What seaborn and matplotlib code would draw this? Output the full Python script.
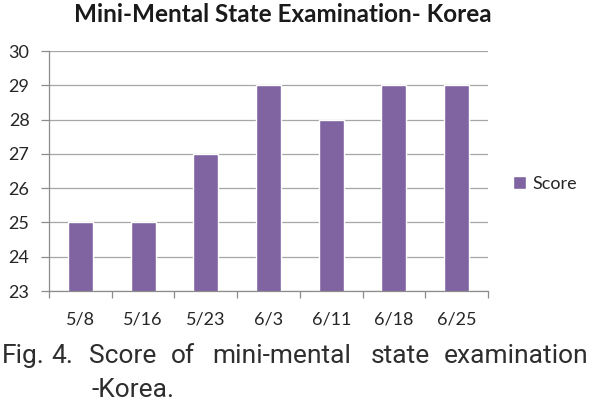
import matplotlib
matplotlib.use("Agg")
import matplotlib.pyplot as plt
import seaborn as sns
import pandas as pd

dates = ["5/8", "5/16", "5/23", "6/3", "6/11", "6/18", "6/25"]
scores = [25, 25, 27, 29, 28, 29, 29]
series_name = "Score"
title = "Mini-Mental State Examination- Korea"
caption_line1 = ["Fig.", "4.", "Score", "of", "mini-mental", "state", "examination"]
caption_line2 = "-Korea."

sns.set_theme(style="white")
plt.rcParams["font.family"] = ["Lato", "DejaVu Sans"]

df = pd.DataFrame({"date": dates, "score": scores, "series": series_name})

W, H = 589, 404
fig = plt.figure(figsize=(W / 100, H / 100), dpi=100)
ax = fig.add_axes([49 / W, 1 - 291 / H, (488 - 49) / W, (291 - 51) / H])

sns.barplot(data=df, x="date", y="score", hue="series", palette=["#8064A2"],
            width=0.4, ax=ax, legend=True, saturation=1)

ax.set_ylim(23, 30)
ax.set_yticks(range(23, 31))
ax.set_xlim(-0.5, len(dates) - 0.5)
ax.grid(axis="y", color="#a6a6a6", linewidth=0.9)
ax.set_axisbelow(True)
for s in ["top", "right"]:
    ax.spines[s].set_visible(False)
for s in ["left", "bottom"]:
    ax.spines[s].set_color("#8c8c8c")
    ax.spines[s].set_linewidth(0.9)
ax.set_xlabel("")
ax.set_ylabel("")
ax.tick_params(axis="y", length=6, color="#8c8c8c", width=0.9, labelsize=13, labelcolor="#262626", pad=8, direction="out", left=True)
ax.set_xticks(range(len(dates)))
ax.set_xticklabels(dates)
ax.tick_params(axis="x", length=0, labelsize=13, labelcolor="#262626", pad=15)
# category boundary ticks
ax.set_xticks([i - 0.5 for i in range(len(dates) + 1)], minor=True)
ax.tick_params(axis="x", which="minor", length=5, color="#8c8c8c", width=0.9, bottom=True)

leg = ax.legend(loc="center left", bbox_to_anchor=(513 / W, 1 - 184 / H),
                bbox_transform=fig.transFigure, frameon=False, fontsize=13,
                handlelength=0.7, handleheight=0.7, handletextpad=0.4,
                borderpad=0, borderaxespad=0)
for t in leg.get_texts():
    t.set_color("#262626")

fig.text(283 / W, 1 - 15 / H, title, ha="center", va="center",
         fontsize=17.5, fontweight="bold", color="#1a1a1a")

cap_x = [2, 62, 123, 183, 282, 400, 516]
cap_ha = ["left", "center", "center", "center", "center", "center", "center"]
cap_font = ["Roboto", "DejaVu Sans"]
for word, x, ha in zip(caption_line1, cap_x, cap_ha):
    fig.text(x / W, 1 - 363 / H, word, ha=ha, va="baseline", fontsize=19,
             family=cap_font, color="#2e2e2e")
fig.text(133 / W, 1 - 397 / H, caption_line2, ha="center", va="baseline", fontsize=19,
         family=cap_font, color="#2e2e2e")

fig.savefig("out.png", dpi=100)
